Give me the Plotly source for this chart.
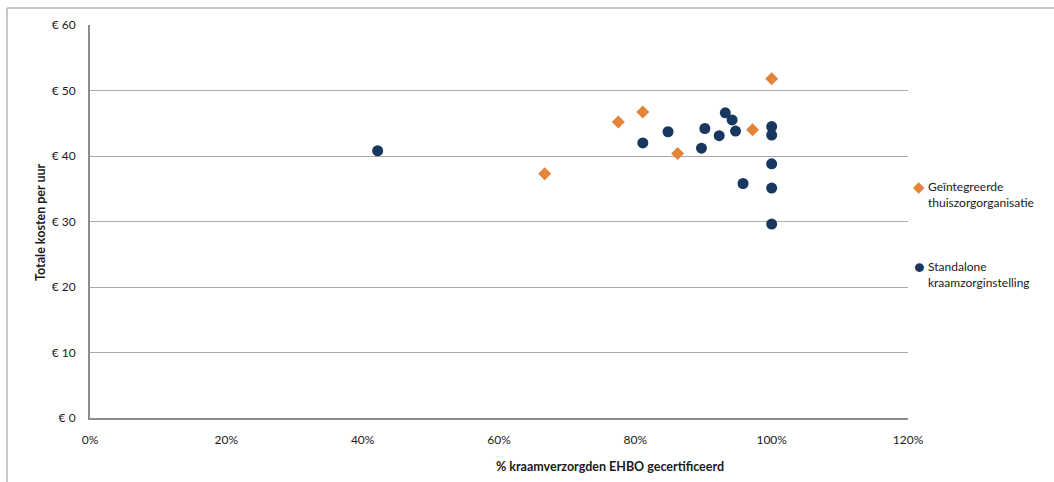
import plotly.graph_objects as go

# Geïntegreerde thuiszorgorganisatie
geint_x = [0.667, 0.775, 0.811, 0.862, 0.972, 1.00]
geint_y = [37.3, 45.2, 46.7, 40.4, 44.0, 51.8]

# Standalone kraamzorginstelling
stand_x = [0.422, 0.811, 0.848, 0.897, 0.902, 0.923, 0.932, 0.942, 0.947, 0.958,
           1.00, 1.00, 1.00, 1.00, 1.00]
stand_y = [40.8, 42.0, 43.7, 41.2, 44.2, 43.1, 46.6, 45.5, 43.8, 35.8,
           44.5, 43.2, 38.8, 35.1, 29.6]

x_ticks = [0, 0.2, 0.4, 0.6, 0.8, 1.0, 1.2]
x_labels = ["0%", "20%", "40%", "60%", "80%", "100%", "120%"]
y_ticks = [0, 10, 20, 30, 40, 50, 60]
y_labels = ["€ 0", "€ 10", "€ 20", "€ 30", "€ 40", "€ 50", "€ 60"]

series_names = ["Geïntegreerde<br>thuiszorgorganisatie",
                "Standalone<br>kraamzorginstelling"]

FONT = "Lato, 'Open Sans', sans-serif"
ORANGE = "#E2853A"
BLUE = "#17375E"
TEXT = "#1A1A1A"

# plot area in pixels: x 90..908, y 25..418
W, H = 1054, 482
L, R, T, B = 90, 146, 25, 64
pw, ph = W - L - R, H - T - B

def px(x):
    return (x - L) / pw

def py(y):
    return 1 - (y - T) / ph

fig = go.Figure()
fig.add_trace(go.Scatter(
    x=geint_x, y=geint_y, mode="markers", name=series_names[0],
    marker=dict(symbol="diamond", size=10, color=ORANGE),
))
fig.add_trace(go.Scatter(
    x=stand_x, y=stand_y, mode="markers", name=series_names[1],
    marker=dict(symbol="circle", size=11, color=BLUE),
))

annotations = [
    dict(text="<b>% kraamverzorgden EHBO gecertificeerd</b>",
         xref="paper", yref="paper", x=px(610), y=py(466),
         showarrow=False, xanchor="center", yanchor="middle",
         font=dict(family=FONT, size=12.5, color=TEXT)),
    dict(text="<b>Totale kosten per uur</b>",
         xref="paper", yref="paper", x=px(40), y=py(222),
         showarrow=False, xanchor="center", yanchor="middle", textangle=-90,
         font=dict(family=FONT, size=12.5, color=TEXT)),
]

# legend drawn beside the plot: symbol + two-line label per series
legend_items = [("◆", ORANGE, 15, 186), ("●", BLUE, 18, 266)]
for (sym, col, sz, ytop), name in zip(legend_items, series_names):
    annotations.append(dict(
        text=sym, xref="paper", yref="paper", x=px(919), y=py(ytop),
        showarrow=False, xanchor="center", yanchor="middle",
        font=dict(family=FONT, size=sz, color=col)))
    annotations.append(dict(
        text=name, xref="paper", yref="paper", x=px(926), y=py(ytop - 9),
        showarrow=False, xanchor="left", yanchor="top", align="left",
        font=dict(family=FONT, size=12, color=TEXT)))

fig.update_layout(
    width=W, height=H,
    margin=dict(l=L, r=R, t=T, b=B, autoexpand=False),
    paper_bgcolor="white", plot_bgcolor="white",
    font=dict(family=FONT, size=11, color=TEXT),
    showlegend=False,
    xaxis=dict(
        range=[0, 1.2], tickvals=x_ticks, ticktext=x_labels,
        showgrid=False, zeroline=False,
        showline=True, linecolor="#8C8C8C", linewidth=2,
        ticks="", ticklabelstandoff=10,
        tickfont=dict(family=FONT, size=12, color=TEXT),
    ),
    yaxis=dict(
        range=[0, 60], tickvals=y_ticks, ticktext=y_labels,
        showgrid=True, gridcolor="#ABABAB", gridwidth=1,
        zeroline=False,
        showline=True, linecolor="#8C8C8C", linewidth=2,
        ticks="", ticklabelstandoff=10,
        tickfont=dict(family=FONT, size=12, color=TEXT),
    ),
    annotations=annotations,
    shapes=[
        # outer chart frame (top and left edges)
        dict(type="line", xref="paper", yref="paper",
             x0=px(7), x1=px(1054), y0=py(8), y1=py(8),
             line=dict(color="#B4B4B4", width=1.5)),
        dict(type="line", xref="paper", yref="paper",
             x0=px(7), x1=px(7), y0=py(8), y1=py(482),
             line=dict(color="#B4B4B4", width=1.5)),
    ],
)

fig.write_html("out.html")
